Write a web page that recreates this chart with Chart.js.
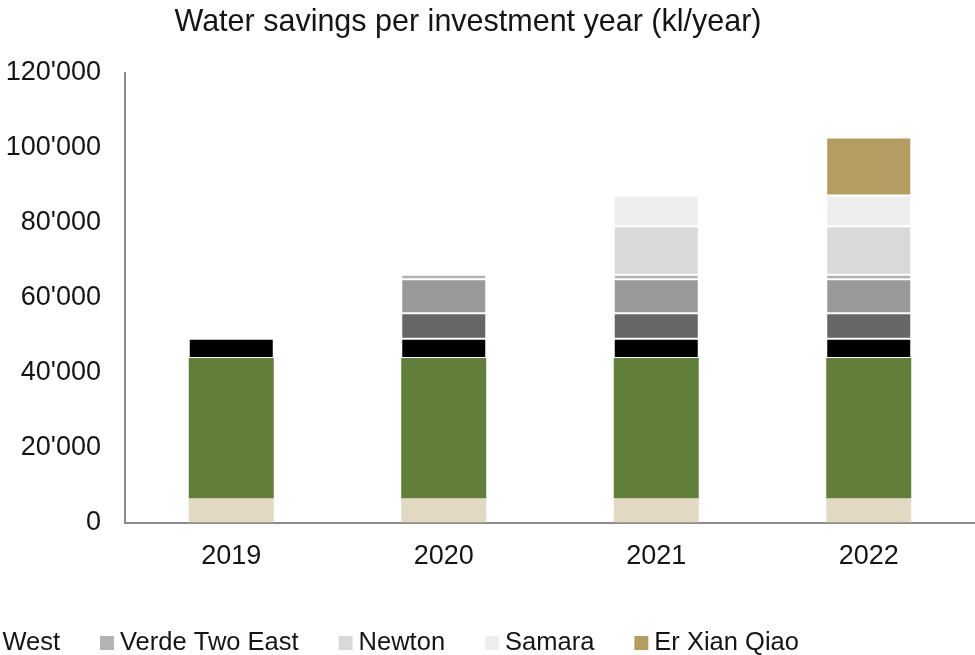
<!DOCTYPE html>
<html>
<head>
<meta charset="utf-8">
<title>Water savings per investment year</title>
<script src="https://cdn.jsdelivr.net/npm/chart.js@4/dist/chart.umd.min.js"></script>
<style>
  html, body { margin: 0; padding: 0; background: #fff; overflow: hidden; }
  #wrap { width: 975px; height: 655px; overflow: hidden; position: relative; }
  /* canvas starts a little left of the page so the legend row runs off the edge */
  #savingsChart { position: absolute; left: -39px; top: 0; }
</style>
</head>
<body>
<div id="wrap"><canvas id="savingsChart" width="1014" height="655"></canvas></div>
<script>
// ---------------- DATA ----------------
const years = ["2019", "2020", "2021", "2022"];

const seriesNames = [
  "Series 1",
  "Series 2",
  "Series 3",
  "Series 4",
  "Verde Two West",
  "Verde Two East",
  "Newton",
  "Samara",
  "Er Xian Qiao",
];

// kl/year per project, stacked bottom to top
const series1 = [6400, 6400, 6400, 6400];
const series2 = [37500, 37500, 37500, 37500];
const series3 = [5100, 5100, 5100, 5100];
const series4 = [0, 6800, 6800, 6800];
const verdeTwoWest = [0, 9100, 9100, 9100];
const verdeTwoEast = [0, 1200, 1200, 1200];
const newton = [0, 0, 12900, 12900];
const samara = [0, 0, 8200, 8200];
const erXianQiao = [0, 0, 0, 15500];

const yTicks = [0, 20000, 40000, 60000, 80000, 100000, 120000];

const seriesColors = [
  "#e2d9c3",
  "#617f3a",
  "#000000",
  "#666666",
  "#999999",
  "#b3b3b3",
  "#d9d9d9",
  "#eeeeee",
  "#b39d62",
];

const FONT = "'Liberation Sans', Arial, sans-serif";
const TEXT = "#151515";

// ---------------- HELPERS ----------------
function fmtThousands(v) {
  return String(v).replace(/\B(?=(\d{3})+(?!\d))/g, "'");
}

// legend drawn as one row; item 5's swatch is pinned, the rest flow around it
const rowLegend = {
  id: "rowLegend",
  afterDraw(chart) {
    const ctx = chart.ctx;
    const y = 643;
    const box = 14;
    const gapText = 6;
    const gapItem = 40;
    const pinIndex = 5;
    const pinX = 139;

    ctx.save();
    ctx.font = `25.5px ${FONT}`;
    ctx.textBaseline = "middle";
    ctx.textAlign = "left";

    const sets = chart.data.datasets;
    const starts = [];
    let x = 0;
    sets.forEach((ds) => {
      starts.push(x);
      x += box + gapText + ctx.measureText(ds.label).width + gapItem;
    });
    const shift = pinX - starts[pinIndex];

    sets.forEach((ds, i) => {
      const sx = starts[i] + shift;
      ctx.fillStyle = ds.backgroundColor;
      ctx.fillRect(sx, y - box / 2, box, box);
      ctx.fillStyle = TEXT;
      ctx.fillText(ds.label, sx + box + gapText, y);
    });
    ctx.restore();
  },
};

// ---------------- CHART ----------------
const seriesValues = [
  series1, series2, series3, series4,
  verdeTwoWest, verdeTwoEast, newton, samara, erXianQiao,
];

// the two bottom blocks are flat fills, the upper ones get a faint light edge
const datasets = seriesValues.map((values, i) => ({
  label: seriesNames[i],
  data: values,
  backgroundColor: seriesColors[i],
  borderColor: "rgba(255,255,255,0.25)",
  borderWidth: i < 2 ? 0 : 1,
  borderSkipped: false,
  categoryPercentage: 0.8,
  barPercentage: 0.5,
}));

const ctx = document.getElementById("savingsChart").getContext("2d");

new Chart(ctx, {
  type: "bar",
  data: { labels: years, datasets },
  plugins: [rowLegend],
  options: {
    responsive: false,
    animation: false,
    layout: { padding: { left: 0, right: 0, top: 0, bottom: 64 } },
    plugins: {
      legend: { display: false },
      tooltip: { enabled: false },
      title: {
        display: true,
        text: "Water savings per investment year (kl/year)",
        color: TEXT,
        font: { family: FONT, size: 30.5, weight: "normal" },
        padding: { top: 4, bottom: 32 },
      },
    },
    scales: {
      x: {
        stacked: true,
        grid: { display: false, drawTicks: false },
        border: { display: true, color: "#8c8c8c", width: 2 },
        ticks: {
          color: TEXT,
          font: { family: FONT, size: 27 },
          padding: 18,
        },
      },
      y: {
        stacked: true,
        min: 0,
        max: 120000,
        afterBuildTicks(scale) {
          scale.ticks = yTicks.map((v) => ({ value: v }));
        },
        afterFit(scale) {
          scale.width = 164;
        },
        grid: { display: false, drawTicks: false },
        border: { display: true, color: "#8c8c8c", width: 2 },
        ticks: {
          color: TEXT,
          font: { family: FONT, size: 27 },
          padding: 24,
          callback: (v) => fmtThousands(v),
        },
      },
    },
  },
});
</script>
</body>
</html>
